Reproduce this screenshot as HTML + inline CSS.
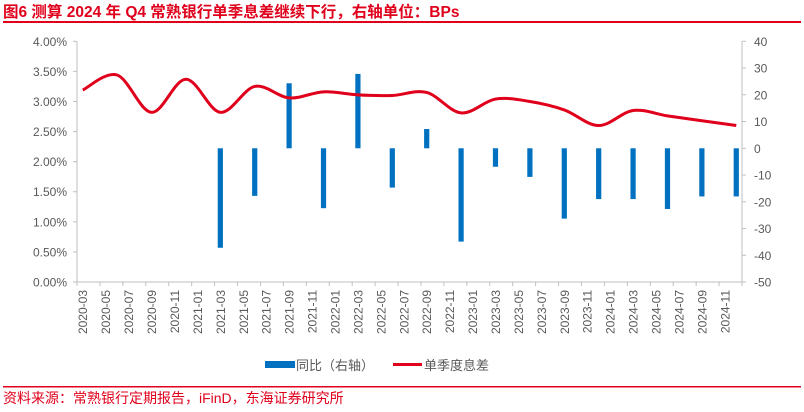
<!DOCTYPE html>
<html><head><meta charset="utf-8"><style>
body{margin:0;background:#fff;}
svg{display:block;font-family:"Liberation Sans","Noto Sans CJK SC",sans-serif;}
</style></head><body>
<svg id="chart" width="804" height="412" viewBox="0 0 804 412">
<text x="3" y="17" font-size="15.5" font-weight="bold" fill="#e0001b">图6  测算 2024 年 Q4 常熟银行单季息差继续下行，右轴单位：BPs</text>
<rect x="3" y="21" width="798" height="2" fill="#e0001b"/>
<g id="axes"></g>
<g id="bars"></g>
<g id="line"></g>
<g>
<rect x="265" y="361" width="30" height="7" fill="#0070c0"/>
<text x="296" y="370" font-size="13" fill="#595959">同比（右轴）</text>
<line x1="393" y1="364.5" x2="422" y2="364.5" stroke="#e0001b" stroke-width="3"/>
<text x="424" y="370" font-size="13" fill="#595959">单季度息差</text>
</g>
<rect x="3" y="386" width="798" height="1.5" fill="#e0001b"/>
<text x="3" y="403" font-size="14" fill="#e0001b">资料来源：常熟银行定期报告，iFinD，东海证券研究所</text>
</svg>
<script>
const months = (function(){const a=[];for(let y=2020;y<=2024;y++)for(let m=1;m<=12;m++){if(y===2020&&m<3)continue;a.push(y+'-'+String(m).padStart(2,'0'));}return a;})();
const quarters = ["2020-03","2020-06","2020-09","2020-12","2021-03","2021-06","2021-09","2021-12","2022-03","2022-06","2022-09","2022-12","2023-03","2023-06","2023-09","2023-12","2024-03","2024-06","2024-09","2024-12"];
const nimValues = [3.19,3.44,2.82,3.37,2.82,3.25,3.06,3.16,3.11,3.10,3.15,2.81,3.04,3.00,2.86,2.60,2.85,2.76,2.68,2.60];
const yoyQuarters = ["2021-03","2021-06","2021-09","2021-12","2022-03","2022-06","2022-09","2022-12","2023-03","2023-06","2023-09","2023-12","2024-03","2024-06","2024-09","2024-12"];
const yoyValues = [-37.2,-17.8,24.3,-22.4,27.8,-14.7,7.2,-34.9,-6.9,-10.7,-26.3,-19,-19,-22.7,-18,-18];
const leftTicks = ["0.00%","0.50%","1.00%","1.50%","2.00%","2.50%","3.00%","3.50%","4.00%"];
const rightTicks = [-50,-40,-30,-20,-10,0,10,20,30,40];

const NS="http://www.w3.org/2000/svg";
const L=77,R=742,T=41.3,B=282;
const cw=(R-L)/months.length;
const xC=m=>L+(months.indexOf(m)+0.5)*cw;
const yL=v=>B-(v/4)*(B-T);
const yR=v=>B-((v+50)/90)*(B-T);
function mk(tag,attrs,parent){const e=document.createElementNS(NS,tag);for(const k in attrs)e.setAttribute(k,attrs[k]);parent.appendChild(e);return e;}
const axes=document.getElementById('axes');
let e;
e=mk('line',{x1:L,y1:T,x2:L,y2:B,stroke:'#bfbfbf'},axes);


e=mk('line',{x1:R,y1:T,x2:R,y2:B,stroke:'#bfbfbf'},axes);


e=mk('line',{x1:L,y1:B,x2:R,y2:B,stroke:'#bfbfbf'},axes);


leftTicks.forEach((t,i)=>{const y=yL(i*0.5);
 mk('line',{x1:L-4,y1:y,x2:L,y2:y,stroke:'#bfbfbf'},axes);
 const tx=mk('text',{x:L-10,y:y+4.5,'font-size':12,fill:'#595959','text-anchor':'end'},axes);tx.textContent=t;
 
 
});
rightTicks.forEach(t=>{const y=yR(t);
 mk('line',{x1:R,y1:y,x2:R+4,y2:y,stroke:'#bfbfbf'},axes);
 const tx=mk('text',{x:R+12,y:y+4.5,'font-size':12,fill:'#595959'},axes);tx.textContent=t;
 
 
});
months.forEach((m,i)=>{
 if(i%2===0){const x=L+i*cw;mk('line',{x1:x,y1:B,x2:x,y2:B+4,stroke:'#bfbfbf'},axes);
  const cx=xC(m);const tx=mk('text',{x:0,y:0,'font-size':12,fill:'#595959','text-anchor':'end',transform:`translate(${cx+4.5},${B+8}) rotate(-90)`},axes);tx.textContent=m;
  
  }
});
mk('line',{x1:R,y1:B,x2:R,y2:B+4,stroke:'#bfbfbf'},axes);
const bars=document.getElementById('bars');
yoyQuarters.forEach((q,i)=>{const x=xC(q),v=yoyValues[i];const y0=yR(0),y1=yR(v);
 const r=mk('rect',{x:x-2.6,y:Math.min(y0,y1),width:5.2,height:Math.abs(y1-y0),fill:'#0070c0'},bars);
 
 
});
const pts=quarters.map((q,i)=>[xC(q),yL(nimValues[i])]);
let d='M'+pts[0][0]+','+pts[0][1];
for(let i=0;i<pts.length-1;i++){const p0=pts[Math.max(0,i-1)],p1=pts[i],p2=pts[i+1],p3=pts[Math.min(pts.length-1,i+2)];
 const c1=[p1[0]+(p2[0]-p0[0])/6,p1[1]+(p2[1]-p0[1])/6],c2=[p2[0]-(p3[0]-p1[0])/6,p2[1]-(p3[1]-p1[1])/6];
 d+=` C${c1[0]},${c1[1]} ${c2[0]},${c2[1]} ${p2[0]},${p2[1]}`;}
const ln=mk('path',{d:d,fill:'none',stroke:'#e0001b','stroke-width':3,'stroke-linejoin':'round'},document.getElementById('line'));


</script>
</body></html>
